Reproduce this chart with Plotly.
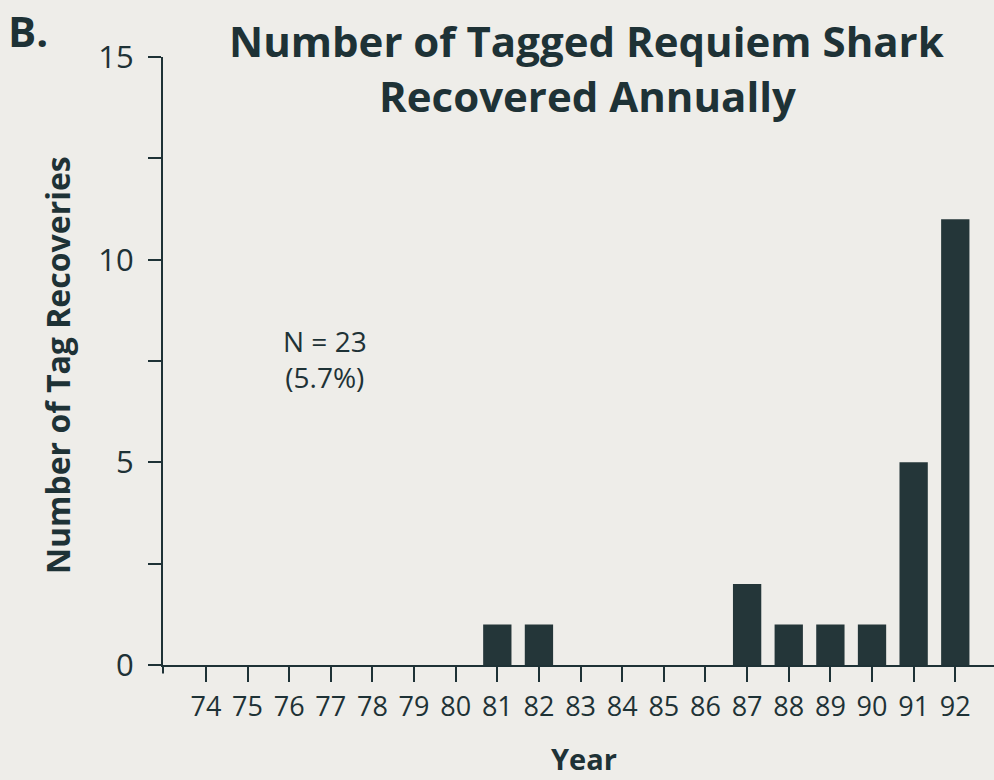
import plotly.graph_objects as go

years = list(range(74, 93))
year_labels = [str(y) for y in years]
recoveries = [0, 0, 0, 0, 0, 0, 0, 1, 1, 0, 0, 0, 0, 2, 1, 1, 1, 5, 11]

title_line1 = "Number of Tagged Requiem Shark"
title_line2 = "Recovered Annually"
panel_label = "B."
y_title = "Number of Tag Recoveries"
x_title = "Year"
note_text = "N = 23<br>(5.7%)"

INK = "#1e3236"
BAR = "#243639"
BG = "#eeede9"
FONT = "Open Sans"

# plot area in page pixels: x 163..994, y 57..665
def px(X):
    return (X - 163) / 831

def py(Y):
    return (665 - Y) / 608

fig = go.Figure()
fig.add_trace(go.Bar(x=years, y=recoveries, marker=dict(color=BAR, line=dict(width=0)), width=0.68))

fig.update_layout(
    width=994, height=780,
    margin=dict(l=163, r=0, t=57, b=115),
    paper_bgcolor=BG, plot_bgcolor=BG,
    showlegend=False,
    font=dict(family=FONT, color=INK),
)
fig.update_xaxes(
    range=[72.97, 92.93], tickvals=years, ticktext=year_labels,
    showline=True, linecolor=INK, linewidth=2,
    ticks="outside", ticklen=15, tickwidth=2, tickcolor=INK,
    tickfont=dict(size=27, color=INK, family=FONT),
    ticklabelstandoff=2,
    showgrid=False, zeroline=False,
)
fig.update_yaxes(
    range=[0, 15], tickvals=[0, 5, 10, 15],
    showline=True, linecolor=INK, linewidth=2,
    ticks="outside", ticklen=13, tickwidth=2, tickcolor=INK,
    minor=dict(dtick=2.5, ticks="outside", ticklen=13, tickwidth=2, tickcolor=INK),
    tickfont=dict(size=31, color=INK, family=FONT),
    ticklabelstandoff=8,
    showgrid=False, zeroline=False,
)

ann = []
ann.append(dict(text=f"<b>{title_line1}</b>", xref="paper", yref="paper", x=px(587), y=py(41),
                showarrow=False, font=dict(size=42, color=INK, family=FONT), xanchor="center", yanchor="middle"))
ann.append(dict(text=f"<b>{title_line2}</b>", xref="paper", yref="paper", x=px(587), y=py(95),
                showarrow=False, font=dict(size=42, color=INK, family=FONT), xanchor="center", yanchor="middle"))
ann.append(dict(text=f"<b>{panel_label}</b>", xref="paper", yref="paper", x=px(28), y=py(30),
                showarrow=False, font=dict(size=42, color=INK, family=FONT), xanchor="center", yanchor="middle"))
ann.append(dict(text=f"<b>{y_title}</b>", xref="paper", yref="paper", x=px(57), y=py(365),
                textangle=-90, showarrow=False, font=dict(size=32, color=INK, family=FONT), xanchor="center", yanchor="middle"))
ann.append(dict(text=f"<b>{x_title}</b>", xref="paper", yref="paper", x=px(584), y=py(758),
                showarrow=False, font=dict(size=29, color=INK, family=FONT), xanchor="center", yanchor="middle"))
ann.append(dict(text=note_text, xref="x", yref="y", x=76.85, y=7.55,
                showarrow=False, font=dict(size=28, color=INK, family=FONT), xanchor="center", yanchor="middle"))
fig.update_layout(annotations=ann)

# y axis line continues a little below the x axis
fig.add_shape(type="line", xref="paper", yref="paper", x0=0, x1=0, y0=-0.014, y1=0,
              line=dict(color=INK, width=2))

post = "document.body.style.margin='0';document.body.style.padding='0';document.body.style.background='%s';document.documentElement.style.background='%s';" % (BG, BG)
fig.write_html("out.html", post_script=post, config={"displayModeBar": False})
